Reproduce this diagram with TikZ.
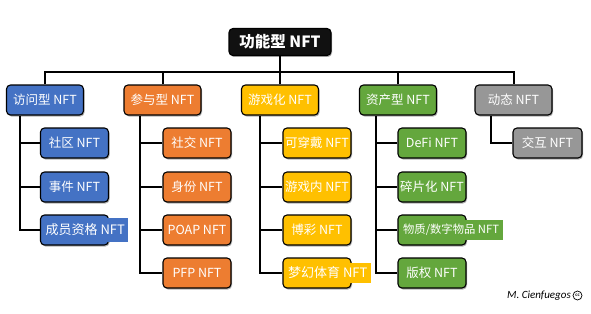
\documentclass[tikz,border=0pt]{standalone}
\usepackage{fontspec}
\setmainfont{Noto Sans CJK SC}
\newfontfamily\wmfont{Carlito}
\usetikzlibrary{shadows}
\definecolor{cblue}{HTML}{4472C4}
\definecolor{corange}{HTML}{ED7D31}
\definecolor{cyellow}{HTML}{FFC000}
\definecolor{cgreen}{HTML}{64A73D}
\definecolor{cgray}{HTML}{979797}
\definecolor{croot}{HTML}{111111}
\begin{document}
\begin{tikzpicture}[x=1pt,y=-1pt,
  box/.style={draw=black, line width=1.1pt, rounded corners=4pt, inner sep=0pt,
    minimum height=30pt, text=white, font=\fontsize{12.5}{14}\selectfont,
    drop shadow={shadow xshift=1pt, shadow yshift=-1.5pt, fill=black, opacity=0.3}},
  lvl/.style={box, minimum width=77pt},
  kid/.style={box, minimum width=68pt},
  over/.style={anchor=west, inner xsep=3.5pt, inner ysep=0pt, minimum height=22pt,
    text=white, font=\fontsize{13}{15}\selectfont},
  conn/.style={draw=black, line width=2pt}]
\useasboundingbox (0,0) rectangle (591,313);
% root
\node[box, fill=croot, minimum width=102pt, minimum height=27pt,
  font=\bfseries\fontsize{15.5}{17}\selectfont] (root) at (280,42) {功能型 NFT};
% level 1
\node[lvl, fill=cblue]   (p1) at (45,100)  {访问型 NFT};
\node[lvl, fill=corange] (p2) at (162.5,100) {参与型 NFT};
\node[lvl, fill=cyellow] (p3) at (280,100) {游戏化 NFT};
\node[lvl, fill=cgreen]  (p4) at (398,100) {资产型 NFT};
\node[lvl, fill=cgray]   (p5) at (513.5,100) {动态 NFT};
% children group 1
\node[kid, fill=cblue] (c11) at (74.5,143) {社区 NFT};
\node[kid, fill=cblue] (c12) at (74.5,187) {事件 NFT};
\node[kid, fill=cblue] (c13) at (74.5,230) {};
\node[over, fill=cblue, minimum height=24pt] (c13t) at ([xshift=2pt]c13.west) {成员资格 NFT};
% group 2
\node[kid, fill=corange] (c21) at (197,143) {社交 NFT};
\node[kid, fill=corange] (c22) at (197,187) {身份 NFT};
\node[kid, fill=corange] (c23) at (197,230) {POAP NFT};
\node[kid, fill=corange] (c24) at (197,273) {PFP NFT};
% group 3
\node[kid, fill=cyellow] (c31) at (317,143) {可穿戴 NFT};
\node[kid, fill=cyellow] (c32) at (317,187) {游戏内 NFT};
\node[kid, fill=cyellow] (c33) at (317,230) {博彩 NFT};
\node[kid, fill=cyellow] (c34) at (317,273) {};
\node[over, fill=cyellow, minimum height=20pt] (c34t) at ([xshift=2pt]c34.west) {梦幻体育 NFT};
% group 4
\node[kid, fill=cgreen] (c41) at (432,143) {DeFi NFT};
\node[kid, fill=cgreen] (c42) at (432,187) {碎片化 NFT};
\node[kid, fill=cgreen] (c43) at (432,230) {};
\node[over, fill=cgreen, minimum height=20pt, font=\fontsize{11.3}{13}\selectfont] (c43t) at ([xshift=2pt]c43.west) {物质/数字物品 NFT};
\node[kid, fill=cgreen] (c44) at (432,273) {版权 NFT};
% group 5
\node[kid, fill=cgray, minimum width=69pt] (c51) at (547.5,143) {交互 NFT};
% connectors
\coordinate (bus) at (0,72);
\draw[conn] (root.south) -- (root.south |- bus);
\draw[conn] (p1.north) -- (p1.north |- bus) -- (p5.north |- bus) -- (p5.north);
\draw[conn] (p2.north) -- (p2.north |- bus);
\draw[conn] (p3.north) -- (p3.north |- bus);
\draw[conn] (p4.north) -- (p4.north |- bus);
\coordinate (tr1) at (20,0);
\coordinate (tr2) at (140,0);
\coordinate (tr3) at (260,0);
\coordinate (tr4) at (376,0);
\coordinate (tr5) at (491,0);
\draw[conn] (p1.south -| tr1) |- (c13.west);
\draw[conn] (c11.west) -- (c11.west -| tr1);
\draw[conn] (c12.west) -- (c12.west -| tr1);
\draw[conn] (p2.south -| tr2) |- (c24.west);
\draw[conn] (c21.west) -- (c21.west -| tr2);
\draw[conn] (c22.west) -- (c22.west -| tr2);
\draw[conn] (c23.west) -- (c23.west -| tr2);
\draw[conn] (p3.south -| tr3) |- (c34.west);
\draw[conn] (c31.west) -- (c31.west -| tr3);
\draw[conn] (c32.west) -- (c32.west -| tr3);
\draw[conn] (c33.west) -- (c33.west -| tr3);
\draw[conn] (p4.south -| tr4) |- (c44.west);
\draw[conn] (c41.west) -- (c41.west -| tr4);
\draw[conn] (c42.west) -- (c42.west -| tr4);
\draw[conn] (c43.west) -- (c43.west -| tr4);
\draw[conn] (p5.south -| tr5) |- (c51.west);
% watermark
\node[anchor=east, inner sep=0pt, font=\wmfont\itshape\fontsize{11}{13}\selectfont] (wm) at (571,296) {M. Cienfuegos};
\node[circle, draw=black, line width=0.7pt, inner sep=0pt, minimum size=9pt,
  font=\wmfont\bfseries\fontsize{5}{6}\selectfont] (cc) at (577.5,295.5) {cc};
\end{tikzpicture}
\end{document}
